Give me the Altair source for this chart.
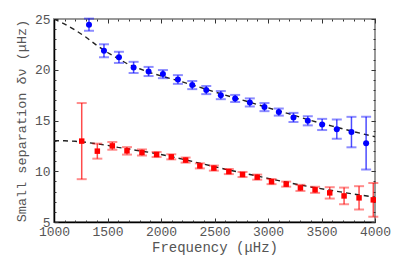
import altair as alt
import pandas as pd

# ---- data ----
blue_f = [1327, 1467, 1607, 1744, 1884, 2018, 2158, 2292, 2423, 2559, 2693, 2830, 2967, 3101, 3238, 3372, 3506, 3643, 3780, 3917]
blue_v = [24.44, 21.87, 21.22, 20.23, 19.83, 19.57, 19.04, 18.49, 18.00, 17.50, 17.17, 16.78, 16.32, 15.83, 15.30, 14.97, 14.61, 14.15, 13.86, 12.77]
blue_e = [0.60, 0.64, 0.55, 0.55, 0.45, 0.40, 0.43, 0.40, 0.40, 0.40, 0.35, 0.40, 0.40, 0.35, 0.45, 0.45, 0.55, 0.95, 1.50, 2.60]

red_f = [1259, 1405, 1545, 1682, 1822, 1959, 2096, 2230, 2363, 2494, 2634, 2762, 2899, 3033, 3170, 3303, 3440, 3577, 3711, 3851, 3984]
red_v = [12.97, 11.98, 12.50, 12.01, 11.85, 11.65, 11.42, 11.10, 10.53, 10.31, 9.97, 9.68, 9.42, 8.98, 8.73, 8.36, 8.17, 7.87, 7.57, 7.38, 7.18]
red_e = [3.75, 0.74, 0.38, 0.37, 0.30, 0.25, 0.25, 0.25, 0.25, 0.25, 0.25, 0.25, 0.25, 0.25, 0.25, 0.30, 0.30, 0.56, 0.82, 1.15, 1.66]

fit_f = [1000, 1100, 1200, 1300, 1400, 1500, 1600, 1700, 1800, 1900, 2000, 2200, 2400, 2600, 2800, 3000, 3200, 3400, 3600, 3800, 4000]
fit_blue = [25.0, 24.5, 23.9, 23.2, 22.4, 21.7, 21.1, 20.5, 20.1, 19.7, 19.4, 18.8, 18.15, 17.5, 16.9, 16.25, 15.65, 15.0, 14.45, 13.9, 13.4]
fit_red = [13.0, 13.0, 12.95, 12.85, 12.7, 12.55, 12.35, 12.2, 12.0, 11.85, 11.65, 11.2, 10.7, 10.2, 9.75, 9.3, 8.85, 8.45, 8.1, 7.75, 7.45]

x_major = [1000, 1500, 2000, 2500, 3000, 3500, 4000]
x_minor = list(range(1000, 4001, 100))
y_major = [5, 10, 15, 20, 25]
y_minor = list(range(5, 26, 1))

W, H = 321, 203
FONT = "Liberation Mono"
GRAY = "#555555"

pts = pd.DataFrame({
    "f": blue_f + red_f,
    "v": blue_v + red_v,
    "err": blue_e + red_e,
    "s": ["blue"] * len(blue_f) + ["red"] * len(red_f),
})
pts["lo"] = pts["v"] - pts["err"]
pts["hi"] = pts["v"] + pts["err"]
caps = pd.concat([
    pts.assign(c=pts["lo"]),
    pts.assign(c=pts["hi"]),
])[["f", "c", "s"]]

fits = pd.DataFrame({
    "f": fit_f + fit_f,
    "v": fit_blue + fit_red,
    "s": ["blue"] * len(fit_f) + ["red"] * len(fit_f),
})

xs = alt.Scale(domain=[1000, 4000], nice=False)
ys = alt.Scale(domain=[5, 25], nice=False)
col = alt.Color("s:N", scale=alt.Scale(domain=["blue", "red"], range=["#0000ff", "#ff0000"]), legend=None)


def tick_axis(orient, values, size, offset):
    return alt.Axis(orient=orient, values=values, labels=False, domain=False, title=None,
                    tickSize=size, tickColor="#333333", tickWidth=1, offset=offset, grid=False)


main_x = alt.Axis(orient="bottom", values=x_major, format="d", ticks=False, domainColor="black", domainWidth=1.5,
                  labelFont=FONT, labelFontSize=13, labelColor=GRAY, labelPadding=3, labelFlush=False,
                  title="Frequency (μHz)", titleFont=FONT, titleFontSize=14, titleFontWeight="normal",
                  titleColor=GRAY, titlePadding=2, grid=False)
main_y = alt.Axis(orient="left", values=y_major, format="d", ticks=False, domainColor="black", domainWidth=1.5,
                  labelFont=FONT, labelFontSize=13, labelColor=GRAY, labelPadding=4,
                  title="Small separation δν (μHz)", titleFont=FONT, titleFontSize=13.5,
                  titleFontWeight="normal", titleColor=GRAY, titlePadding=6, grid=False)

fit_layer = alt.Chart(fits).mark_line(strokeDash=[5, 4], strokeWidth=1.4, color="#222222", clip=True).encode(
    x=alt.X("f:Q", scale=xs, axis=main_x),
    y=alt.Y("v:Q", scale=ys, axis=main_y),
    detail="s:N",
)

rules = alt.Chart(pts).mark_rule(strokeWidth=1.5, opacity=0.7).encode(
    x=alt.X("f:Q", scale=xs, axis=tick_axis("top", x_major, 4, -H)),
    y=alt.Y("lo:Q", scale=ys, axis=tick_axis("right", y_major, 4, -W)),
    y2="hi:Q",
    color=col,
)

cap_layer = alt.Chart(caps).mark_tick(orient="horizontal", size=10, thickness=2, opacity=0.45).encode(
    x=alt.X("f:Q", scale=xs, axis=tick_axis("top", x_minor, 2, -H)),
    y=alt.Y("c:Q", scale=ys, axis=tick_axis("right", y_minor, 2, -W)),
    color=col,
)

blue_pts = alt.Chart(pts[pts["s"] == "blue"]).mark_point(shape="circle", filled=True, size=36, opacity=1).encode(
    x=alt.X("f:Q", scale=xs, axis=tick_axis("bottom", x_major, 4, -H)),
    y=alt.Y("v:Q", scale=ys, axis=tick_axis("left", y_major, 4, -W)),
    color=col,
)

red_pts = alt.Chart(pts[pts["s"] == "red"]).mark_point(shape="square", filled=True, size=30, opacity=1).encode(
    x=alt.X("f:Q", scale=xs, axis=tick_axis("bottom", x_minor, 2, -H)),
    y=alt.Y("v:Q", scale=ys, axis=tick_axis("left", y_minor, 2, -W)),
    color=col,
)

chart = alt.layer(fit_layer, rules, cap_layer, blue_pts, red_pts).resolve_axis(
    x="independent", y="independent"
).properties(
    width=W, height=H,
    autosize=alt.AutoSizeParams(type="none"),
    padding={"left": 46, "top": 11, "right": 30, "bottom": 40},
).configure_view(
    stroke="#999999", strokeWidth=2
).configure_axis(
    labelFont=FONT, titleFont=FONT
)

chart.save("out.html", embed_options={"renderer": "svg", "actions": False})
